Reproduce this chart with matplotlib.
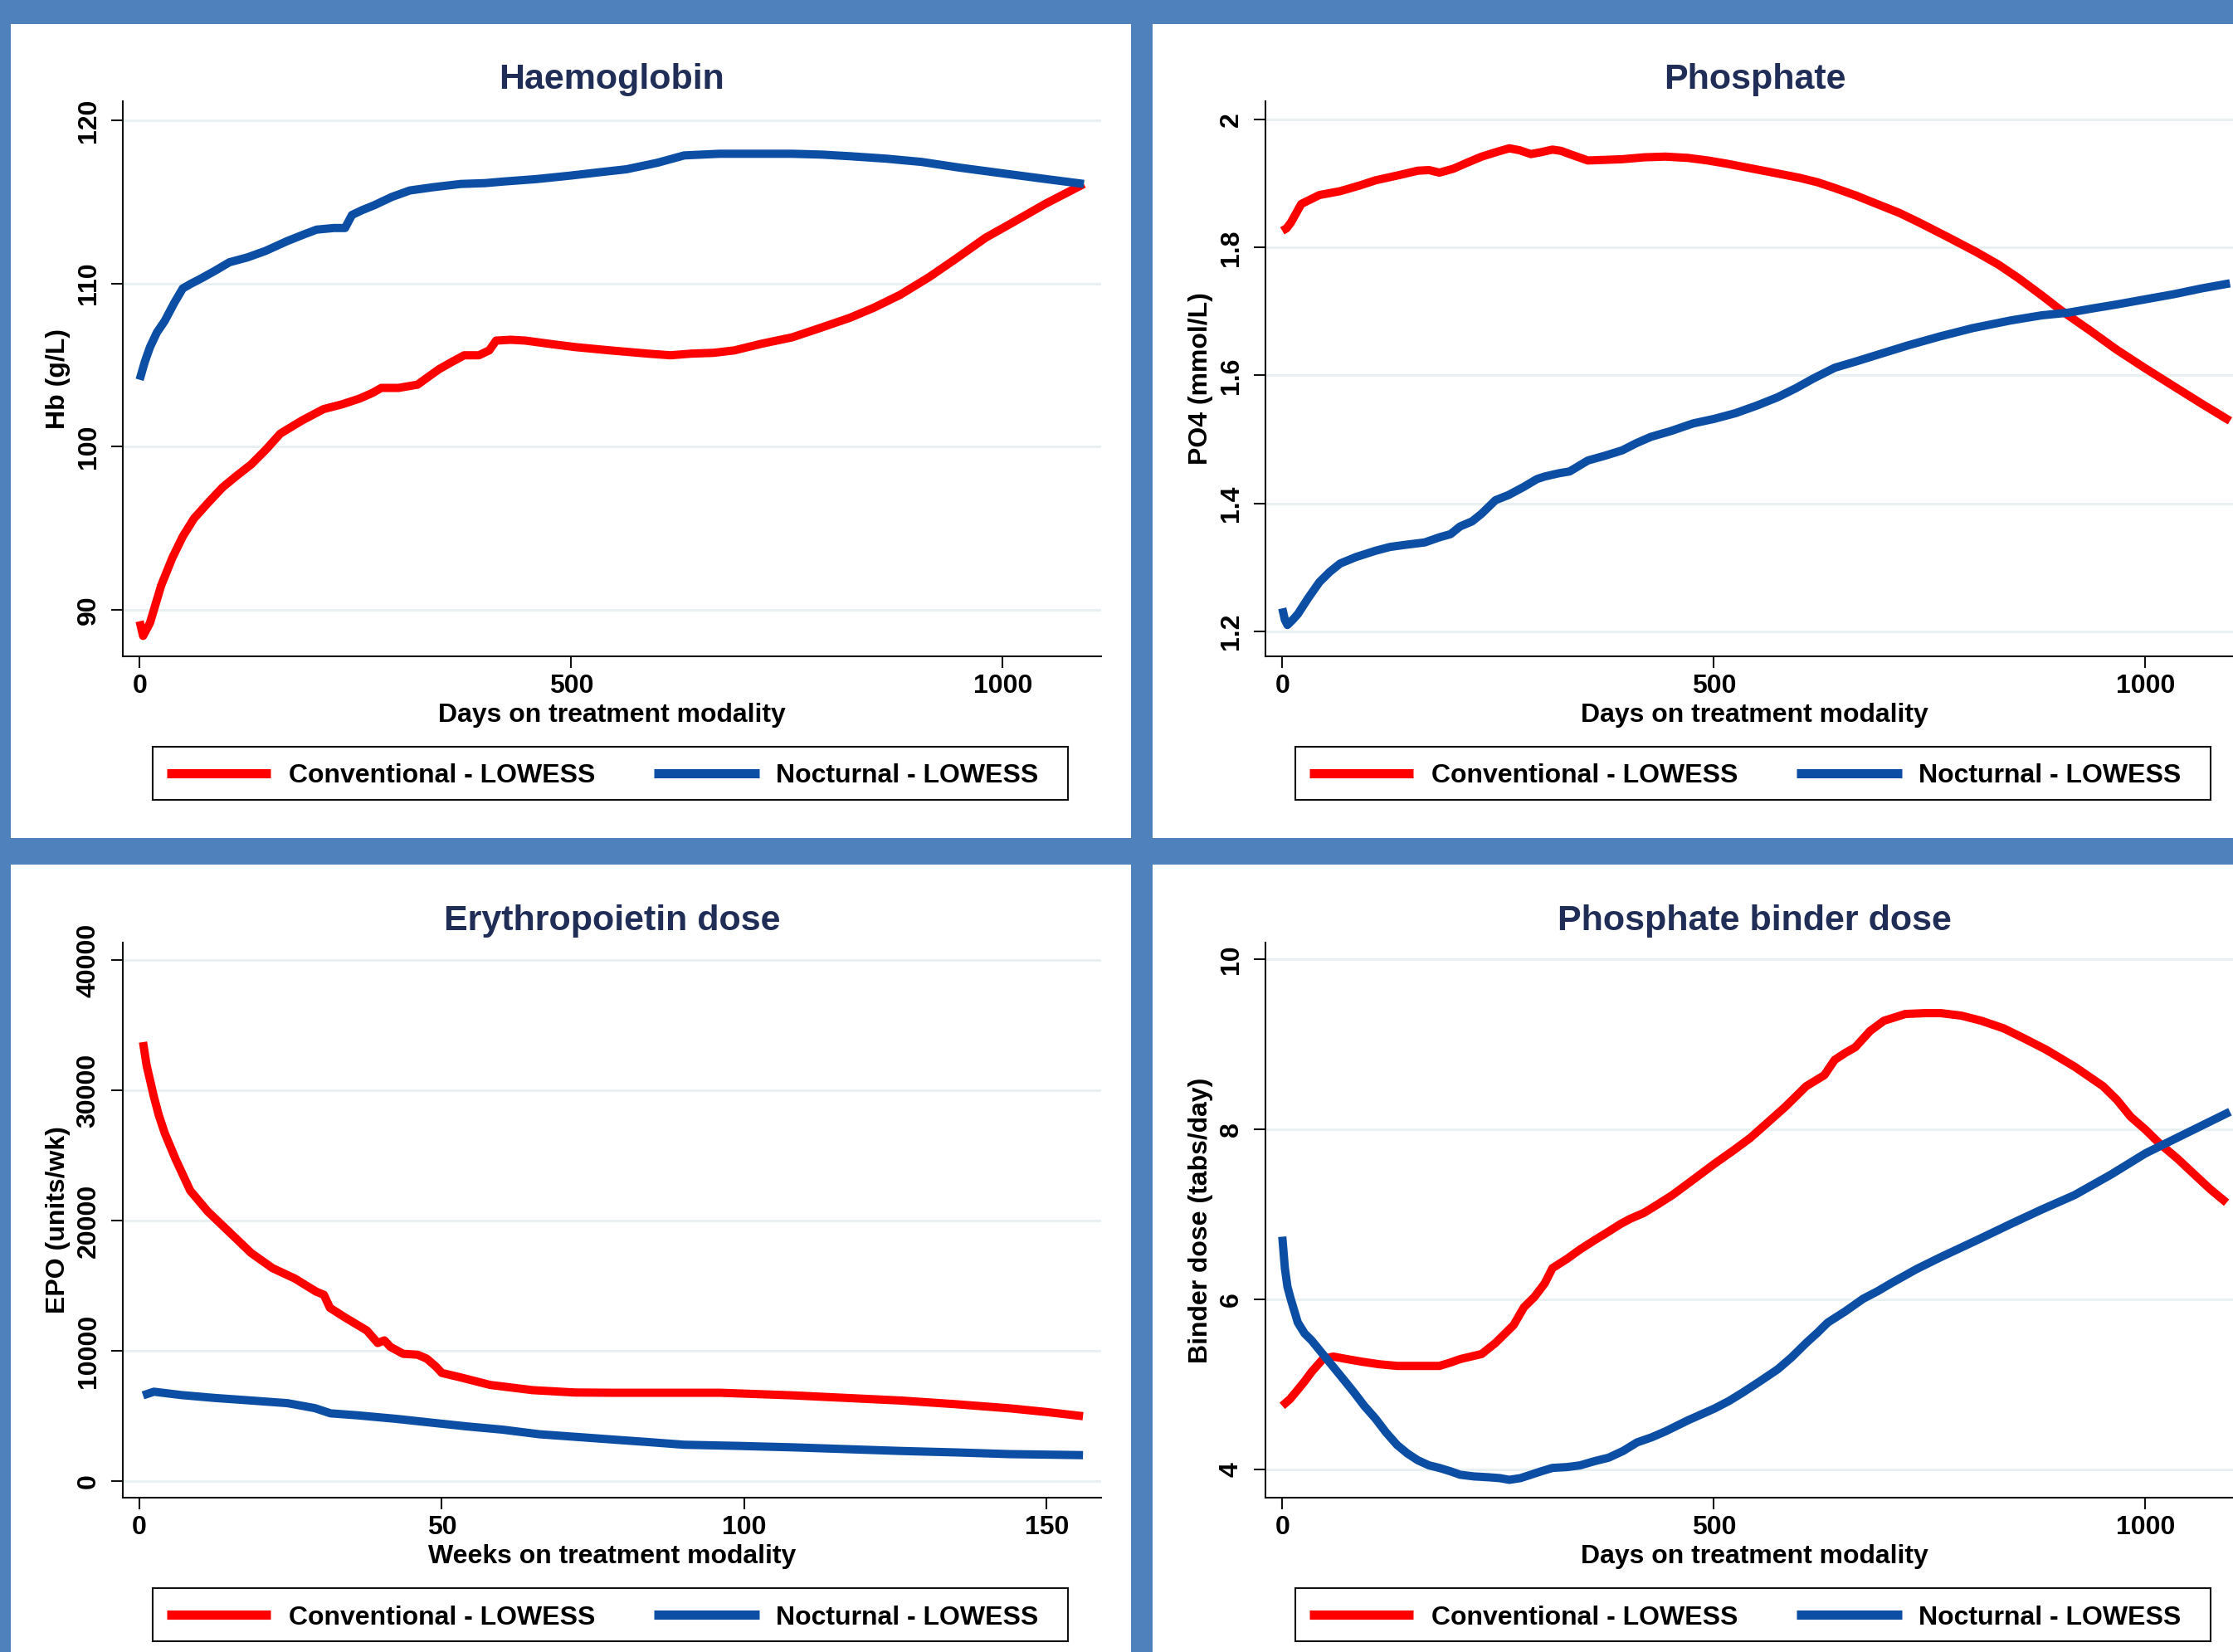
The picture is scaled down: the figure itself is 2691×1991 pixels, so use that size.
import matplotlib
matplotlib.use('Agg')
from matplotlib import pyplot as plt
from matplotlib.patches import Rectangle
from matplotlib.lines import Line2D

# ---- data ----
hb_conv_days = [0, 4, 12, 25, 38, 50, 63, 80, 96, 112, 129, 146, 163, 188, 213, 235, 255, 270,
                280, 300, 322, 335, 347, 362, 376, 393, 405, 413, 430, 447, 475, 505, 545, 589,
                615, 639, 665, 689, 720, 756, 790, 823, 850, 881, 915, 948, 980, 1007, 1050, 1094]
hb_conv = [89.3, 88.4, 89.2, 91.5, 93.2, 94.5, 95.6, 96.6, 97.5, 98.2, 98.9, 99.8, 100.8, 101.6,
           102.3, 102.6, 102.95, 103.3, 103.6, 103.6, 103.8, 104.3, 104.75, 105.2, 105.6, 105.6,
           105.9, 106.5, 106.55, 106.5, 106.3, 106.1, 105.9, 105.7, 105.6, 105.7, 105.75, 105.9,
           106.3, 106.7, 107.3, 107.9, 108.5, 109.3, 110.4, 111.6, 112.8, 113.6, 114.9, 116.1]
hb_noct_days = [0, 6, 12, 20, 29, 40, 50, 60, 71, 88, 104, 125, 146, 171, 190, 205, 225, 238, 246,
                258, 272, 292, 313, 340, 372, 400, 422, 460, 497, 530, 564, 600, 631, 672, 720,
                756, 790, 823, 865, 906, 950, 1007, 1050, 1094]
hb_noct = [104.1, 105.2, 106.1, 107.0, 107.7, 108.8, 109.7, 110.0, 110.3, 110.8, 111.3, 111.6,
           112.0, 112.6, 113.0, 113.3, 113.4, 113.4, 114.2, 114.5, 114.8, 115.3, 115.7, 115.9,
           116.1, 116.15, 116.25, 116.4, 116.6, 116.8, 117.0, 117.4, 117.85, 117.95, 117.95,
           117.95, 117.9, 117.8, 117.65, 117.45, 117.1, 116.7, 116.4, 116.1]

po4_conv_days = [0, 5, 10, 22, 43, 67, 90, 108, 135, 157, 170, 182, 198, 215, 231, 250, 263, 275,
                 288, 300, 313, 323, 333, 354, 375, 394, 420, 444, 470, 493, 515, 534, 565, 599,
                 620, 640, 665, 689, 715, 738, 770, 804, 830, 853, 880, 902, 935, 967, 1000, 1033,
                 1065, 1098]
po4_conv = [1.826, 1.83, 1.839, 1.868, 1.882, 1.888, 1.897, 1.905, 1.913, 1.92, 1.921, 1.917,
            1.923, 1.933, 1.942, 1.95, 1.955, 1.952, 1.946, 1.949, 1.953, 1.951, 1.946, 1.936,
            1.937, 1.938, 1.941, 1.942, 1.94, 1.936, 1.931, 1.926, 1.918, 1.909, 1.902, 1.893,
            1.881, 1.868, 1.854, 1.839, 1.817, 1.793, 1.773, 1.752, 1.725, 1.702, 1.671, 1.640,
            1.611, 1.583, 1.556, 1.529]
po4_noct_days = [0, 3, 6, 12, 18, 30, 43, 55, 67, 85, 108, 125, 141, 165, 182, 195, 206, 220, 231,
                 247, 262, 280, 295, 304, 320, 333, 354, 375, 394, 410, 427, 450, 476, 500, 525,
                 550, 574, 595, 615, 640, 665, 689, 725, 762, 800, 844, 880, 910, 940, 967, 1000,
                 1033, 1065, 1098]
po4_noct = [1.236, 1.218, 1.21, 1.218, 1.227, 1.252, 1.277, 1.293, 1.306, 1.316, 1.326, 1.332,
            1.335, 1.339, 1.347, 1.352, 1.364, 1.372, 1.384, 1.405, 1.413, 1.426, 1.438, 1.442,
            1.447, 1.45, 1.467, 1.475, 1.483, 1.494, 1.504, 1.513, 1.525, 1.532, 1.541, 1.553,
            1.566, 1.580, 1.595, 1.612, 1.622, 1.632, 1.647, 1.661, 1.674, 1.686, 1.694, 1.698,
            1.705, 1.711, 1.719, 1.727, 1.736, 1.744]

epo_conv_weeks = [0.6, 1.2, 2.4, 3.2, 4.2, 6, 8.4, 11.3, 14.9, 18.5, 22, 25.7, 29.2, 30.5, 31.5,
                  34, 37.6, 39.4, 40.5, 41.5, 43.6, 46, 47.5, 49, 50, 53, 58, 65, 72, 78, 96, 108,
                  117, 126, 135, 144, 150, 156]
epo_conv = [33700, 31900, 29500, 28100, 26700, 24700, 22300, 20700, 19100, 17500, 16350, 15550,
            14550, 14300, 13300, 12560, 11560, 10600, 10800, 10300, 9770, 9700, 9400, 8800, 8300,
            7970, 7380, 6980, 6800, 6780, 6780, 6580, 6380, 6180, 5900, 5580, 5300, 4980]
epo_noct_weeks = [0.6, 2.4, 7, 12.5, 18, 24.5, 29, 31.6, 36, 42.4, 48, 54.3, 60, 66.2, 72, 78.2,
                  84, 90, 99, 108, 117, 126, 135, 143.8, 150, 156]
epo_noct = [6580, 6860, 6600, 6380, 6200, 5980, 5600, 5200, 5050, 4780, 4500, 4190, 3950, 3590,
            3400, 3190, 3000, 2790, 2700, 2590, 2450, 2310, 2200, 2070, 2030, 1990]

bind_conv_days = [0, 9, 18, 26, 34, 47, 59, 75, 92, 112, 133, 160, 182, 195, 206, 231, 247, 258,
                  268, 280, 292, 304, 313, 330, 345, 362, 378, 392, 403, 419, 435, 452, 476, 501,
                  522, 542, 562, 583, 607, 628, 640, 652, 664, 681, 697, 722, 745, 763, 787, 810,
                  836, 860, 885, 918, 951, 967, 983, 1000, 1016, 1037, 1057, 1075, 1094]
bind_conv = [4.75, 4.83, 4.94, 5.04, 5.15, 5.30, 5.33, 5.30, 5.27, 5.24, 5.22, 5.22, 5.22, 5.26,
             5.30, 5.36, 5.49, 5.60, 5.70, 5.91, 6.03, 6.19, 6.37, 6.48, 6.59, 6.70, 6.80, 6.89,
             6.95, 7.02, 7.12, 7.23, 7.41, 7.60, 7.75, 7.90, 8.08, 8.27, 8.51, 8.64, 8.82, 8.90,
             8.97, 9.16, 9.28, 9.36, 9.37, 9.37, 9.34, 9.28, 9.19, 9.07, 8.94, 8.74, 8.51, 8.35,
             8.15, 8.00, 7.84, 7.66, 7.47, 7.30, 7.14]
bind_noct_days = [0, 3, 6, 10, 18, 26, 34, 46, 59, 71, 83, 95, 108, 120, 133, 145, 157, 170, 182,
                  195, 206, 222, 239, 252, 263, 276, 288, 300, 313, 330, 345, 362, 378, 395, 411,
                  428, 444, 470, 501, 518, 534, 555, 574, 590, 607, 620, 632, 652, 673, 690, 705,
                  735, 763, 805, 844, 880, 918, 960, 1000, 1050, 1098]
bind_noct = [6.74, 6.37, 6.15, 6.0, 5.73, 5.60, 5.52, 5.37, 5.21, 5.06, 4.91, 4.75, 4.60, 4.44,
             4.29, 4.19, 4.11, 4.05, 4.02, 3.98, 3.94, 3.92, 3.91, 3.90, 3.88, 3.90, 3.94, 3.98,
             4.02, 4.03, 4.05, 4.10, 4.14, 4.22, 4.32, 4.38, 4.45, 4.58, 4.72, 4.81, 4.91, 5.05,
             5.18, 5.32, 5.49, 5.61, 5.73, 5.86, 6.01, 6.10, 6.19, 6.36, 6.50, 6.70, 6.89, 7.06,
             7.23, 7.47, 7.72, 7.97, 8.21]

titles = ['Haemoglobin', 'Phosphate', 'Erythropoietin dose', 'Phosphate binder dose']
ylabels = ['Hb (g/L)', 'PO4 (mmol/L)', 'EPO (units/wk)', 'Binder dose (tabs/day)']
xlabels = ['Days on treatment modality', 'Days on treatment modality',
           'Weeks on treatment modality', 'Days on treatment modality']
legend_labels = ['Conventional - LOWESS', 'Nocturnal - LOWESS']

# ---- style ----
W, H = 2691, 1991
FRAME = '#4f81bd'
RED = '#ff0000'
BLUE = '#0c4ea4'
NAVY = '#1f2d57'
GRID = '#e8f0f2'
plt.rcParams['font.family'] = ['Liberation Sans', 'DejaVu Sans']
plt.rcParams['font.weight'] = 'bold'

fig = plt.figure(figsize=(W / 100, H / 100), dpi=100)
fig.patch.set_facecolor(FRAME)


def fx(px):
    return px / W


def fy(py):
    return 1 - py / H


# white panel backgrounds
for (x0, y0, x1, y1) in [(13, 29, 1363, 1010), (1389, 29, 2800, 1010),
                         (13, 1042, 1363, 2100), (1389, 1042, 2800, 2100)]:
    fig.add_artist(Rectangle((fx(x0), fy(y1)), (x1 - x0) / W, (y1 - y0) / H,
                             transform=fig.transFigure, facecolor='white',
                             edgecolor='none', zorder=0))


def panel(left, top, title, ylabel, xlabel, xlim, ylim, yticks, xticks, ytickfmt,
          xc, yc, xn, yn):
    right, bottom = left + 1179, top + 669
    ax = fig.add_axes([fx(left), fy(bottom), 1179 / W, 669 / H])
    ax.set_facecolor('white')
    ax.plot(xc, yc, color=RED, lw=7.2, solid_capstyle='butt', zorder=3)
    ax.plot(xn, yn, color=BLUE, lw=7.2, solid_capstyle='butt', zorder=4)
    ax.set_xlim(*xlim)
    ax.set_ylim(*ylim)
    ax.set_yticks(yticks)
    ax.set_yticklabels([ytickfmt(v) for v in yticks])
    ax.set_xticks(xticks)
    ax.set_xticklabels([str(v) for v in xticks])
    for s in ['top', 'right']:
        ax.spines[s].set_visible(False)
    for s in ['left', 'bottom']:
        ax.spines[s].set_linewidth(1.5)
        ax.spines[s].set_color('#111111')
    ax.grid(axis='y', color=GRID, lw=2.2, zorder=0)
    ax.set_axisbelow(True)
    ax.tick_params(axis='both', length=10, width=1.5, color='#111111', labelsize=23)
    ax.tick_params(axis='y', pad=9, labelrotation=90)
    ax.tick_params(axis='x', pad=5)
    for lab in ax.get_yticklabels():
        lab.set_va('center')
    cx = (left + right) / 2
    fig.text(fx(cx), fy(top - 15), title, ha='center', va='baseline',
             fontsize=31, color=NAVY)
    fig.text(fx(cx), fy(bottom + 71), xlabel, ha='center', va='center', fontsize=23)
    fig.text(fx(left - 78), fy((top + bottom) / 2), ylabel, ha='center', va='center',
             rotation=90, fontsize=23)
    # legend box
    bx0, by0, by1 = left + 36, bottom + 109, bottom + 173
    fig.add_artist(Rectangle((fx(bx0), fy(by1)), 1103 / W, (by1 - by0) / H,
                             transform=fig.transFigure, facecolor='white',
                             edgecolor='#111111', lw=1.5, zorder=5))
    ly = fy((by0 + by1) / 2)
    for col, x0, x1, tx, lab in [(RED, 17, 142, 164, legend_labels[0]),
                                 (BLUE, 604, 731, 751, legend_labels[1])]:
        fig.add_artist(Line2D([fx(bx0 + x0), fx(bx0 + x1)], [ly, ly], color=col, lw=8,
                              solid_capstyle='butt', transform=fig.transFigure, zorder=6))
        fig.text(fx(bx0 + tx), ly, lab, ha='left', va='center_baseline', fontsize=23,
                 zorder=6)
    return ax


day_lim = (-19.5, 1114)
panel(148, 122, titles[0], ylabels[0], xlabels[0], day_lim, (87.15, 121.17),
      [90, 100, 110, 120], [0, 500, 1000], lambda v: '%d' % v,
      hb_conv_days, hb_conv, hb_noct_days, hb_noct)
panel(1525, 122, titles[1], ylabels[1], xlabels[1], day_lim, (1.161, 2.0286),
      [1.2, 1.4, 1.6, 1.8, 2.0], [0, 500, 1000], lambda v: ('%g' % v),
      po4_conv_days, po4_conv, po4_noct_days, po4_noct)
panel(148, 1136, titles[2], ylabels[2], xlabels[2], (-2.74, 159), (-1274, 41340),
      [0, 10000, 20000, 30000, 40000], [0, 50, 100, 150], lambda v: '%d' % v,
      epo_conv_weeks, epo_conv, epo_noct_weeks, epo_noct)
panel(1525, 1136, titles[3], ylabels[3], xlabels[3], day_lim, (3.67, 10.2),
      [4, 6, 8, 10], [0, 500, 1000], lambda v: '%d' % v,
      bind_conv_days, bind_conv, bind_noct_days, bind_noct)

fig.savefig('out.png', dpi=100, facecolor=FRAME)
